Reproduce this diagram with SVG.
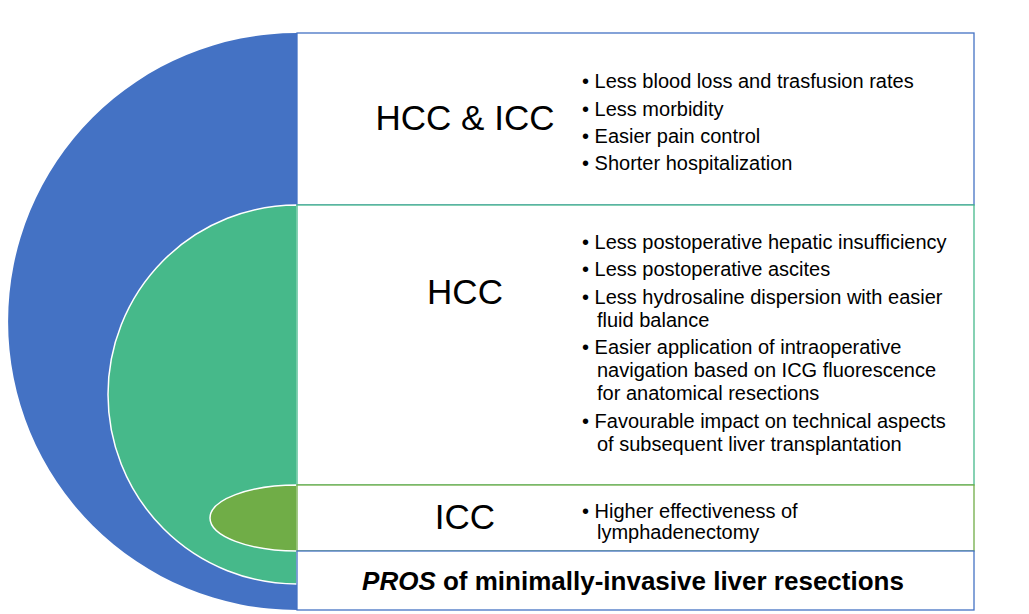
<svg xmlns="http://www.w3.org/2000/svg" width="1029" height="614" viewBox="0 0 1029 614">
<style>
text{font-family:"Liberation Sans",Arial,sans-serif;fill:#000}
.h{font-size:35px;text-anchor:middle}
.b{font-size:20px}
</style>
<rect width="1029" height="614" fill="#fff"/>
<g id="blue"><path d="M297,33 A289,288.5 0 0 0 297,610 Z" fill="#4472c4"/></g>
<g id="green"><path d="M297,205 A189,189.5 0 0 0 297,584 Z" fill="#46b98a" stroke="#fff" stroke-width="1.5"/></g>
<g id="olive"><path d="M297,485 A87,33 0 0 0 297,551 Z" fill="#70ad47" stroke="#fff" stroke-width="1.5"/></g>
<g id="box-top"><rect x="297" y="33" width="677" height="172" fill="#fff" stroke="#4472c4" stroke-width="1.3"/>
<text class="h" x="465" y="130">HCC &amp; ICC</text>
<text class="b" x="582" y="88">• Less blood loss and trasfusion rates</text>
<text class="b" x="582" y="116">• Less morbidity</text>
<text class="b" x="582" y="143">• Easier pain control</text>
<text class="b" x="582" y="170">• Shorter hospitalization</text></g>
<g id="box-hcc"><rect x="297" y="205" width="677" height="280" fill="#fff" stroke="#46b98a" stroke-width="1.3"/>
<text class="h" x="465" y="304">HCC</text>
<text class="b" x="582" y="249">• Less postoperative hepatic insufficiency</text>
<text class="b" x="582" y="276">• Less postoperative ascites</text>
<text class="b" x="582" y="304">• Less hydrosaline dispersion with easier</text>
<text class="b" x="597" y="327">fluid balance</text>
<text class="b" x="582" y="354">• Easier application of intraoperative</text>
<text class="b" x="597" y="377">navigation based on ICG fluorescence</text>
<text class="b" x="597" y="400">for anatomical resections</text>
<text class="b" x="582" y="428">• Favourable impact on technical aspects</text>
<text class="b" x="597" y="451">of subsequent liver transplantation</text></g>
<g id="box-icc"><rect x="297" y="485" width="677" height="66" fill="#fff" stroke="#70ad47" stroke-width="1.3"/>
<text class="h" x="465" y="529">ICC</text>
<text class="b" x="582" y="518">• Higher effectiveness of</text>
<text class="b" x="597" y="539">lymphadenectomy</text></g>
<g id="box-title"><rect x="297" y="551" width="677" height="59" fill="#fff" stroke="#4472c4" stroke-width="1.3"/>
<text x="633" y="590" font-size="26" font-weight="bold" text-anchor="middle"><tspan font-style="italic">PROS</tspan> of minimally-invasive liver resections</text></g>
<g id="connectors"/>
</svg>
